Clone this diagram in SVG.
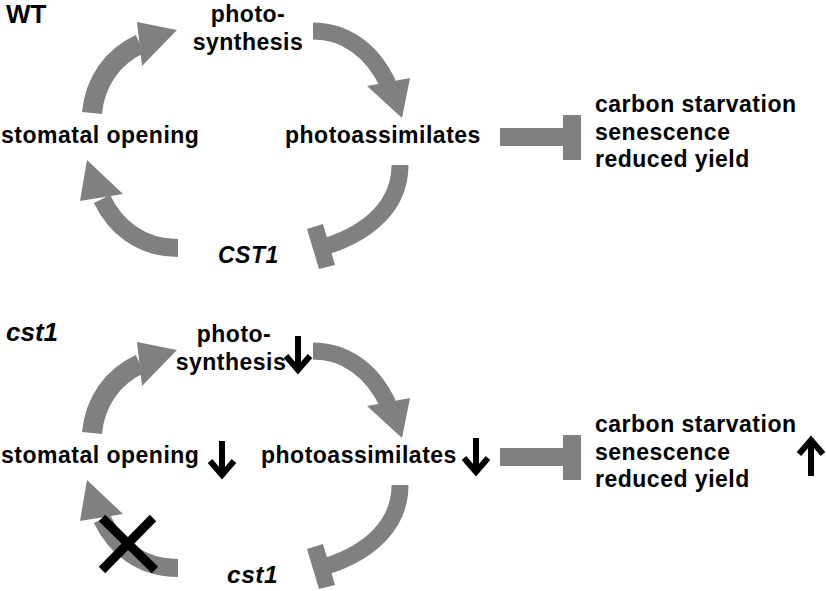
<svg xmlns="http://www.w3.org/2000/svg" xmlns:xlink="http://www.w3.org/1999/xlink" width="826" height="591" viewBox="0 0 826 591">
<defs>
<style>
.t{font-family:"Liberation Sans",Arial,sans-serif;font-weight:bold;font-size:23px;letter-spacing:0.5px;fill:#000}
.i{font-style:italic}
.ttl{font-size:26px;letter-spacing:0}
.sh{fill:none;stroke:#808080;stroke-linecap:butt}
.hd{fill:#808080}
.bk{fill:none;stroke:#000;stroke-width:6;stroke-linejoin:miter;stroke-miterlimit:10}
</style>
<path id="down" class="bk" d="M0,0 V34 M-12,20 L0,34 L12,20"/>
<path id="up" class="bk" d="M0,0 V-36 M-12,-22 L0,-36 L12,-22"/>
</defs>
<rect width="826" height="591" fill="#fff"/>

<g id="connectors">
  <!-- WT -->
  <path class="sh" stroke-width="20" d="M92,113 C95,82 112,57 140,44"/>
  <polygon class="hd" points="137,22 177,30 142,66"/>
  <path class="sh" stroke-width="17" d="M313,31 C345,31 372,50 388,84"/>
  <polygon class="hd" points="367,86 410,78 402,118"/>
  <path class="sh" stroke-width="17" d="M400,165 C400,205 370,232 327,246"/>
  <polygon class="hd" points="307,229 323,224 335,265 319,269"/>
  <path class="sh" stroke-width="18" d="M178,248 C140,248 115,226 102,199"/>
  <polygon class="hd" points="87,160 123,194 80,201"/>
  <rect class="hd" x="500" y="128" width="64" height="18"/>
  <rect class="hd" x="563" y="115" width="18" height="45"/>
  <!-- cst1 -->
  <g transform="translate(0,320)">
    <path class="sh" stroke-width="20" d="M92,113 C95,82 112,57 140,44"/>
    <polygon class="hd" points="137,22 177,30 142,66"/>
    <path class="sh" stroke-width="17" d="M313,31 C345,31 372,50 388,84"/>
    <polygon class="hd" points="367,86 410,78 402,118"/>
    <path class="sh" stroke-width="17" d="M400,165 C400,205 370,232 327,246"/>
    <polygon class="hd" points="307,229 323,224 335,265 319,269"/>
    <path class="sh" stroke-width="18" d="M178,248 C140,248 115,226 102,199"/>
    <polygon class="hd" points="87,160 123,194 80,201"/>
    <rect class="hd" x="500" y="128" width="64" height="18"/>
    <rect class="hd" x="563" y="115" width="18" height="45"/>
  </g>
  <g id="block-x" stroke="#000" stroke-width="9">
    <line x1="102" y1="518" x2="155" y2="570"/>
    <line x1="153" y1="518" x2="102" y2="570"/>
  </g>
</g>

<g id="label-wt"><text class="t ttl" x="6" y="23">WT</text></g>
<g id="node-photosynthesis-wt"><text class="t" x="248" y="22" text-anchor="middle">photo-</text><text class="t" x="248" y="50" text-anchor="middle">synthesis</text></g>
<g id="node-stomatal-wt"><text class="t" x="1" y="143">stomatal opening</text></g>
<g id="node-photoassimilates-wt"><text class="t" x="285" y="143">photoassimilates</text></g>
<g id="node-cst1-wt"><text class="t i" x="218" y="263">CST1</text></g>
<g id="node-outcomes-wt"><text class="t" x="595" y="112">carbon starvation</text><text class="t" x="595" y="139.5">senescence</text><text class="t" x="595" y="167">reduced yield</text></g>

<g id="label-cst1"><text class="t i ttl" x="6" y="341">cst1</text></g>
<g id="node-photosynthesis-cst1"><text class="t" x="234" y="342" text-anchor="middle">photo-</text><text class="t" x="231" y="370" text-anchor="middle">synthesis</text><use xlink:href="#down" x="298" y="336"/></g>
<g id="node-stomatal-cst1"><text class="t" x="1" y="463">stomatal opening</text><use xlink:href="#down" x="222" y="441"/></g>
<g id="node-photoassimilates-cst1"><text class="t" x="261" y="463">photoassimilates</text><use xlink:href="#down" x="476" y="438"/></g>
<g id="node-cst1-mut"><text class="t i" x="227" y="583" style="font-size:24.5px">cst1</text></g>
<g id="node-outcomes-cst1"><text class="t" x="595" y="432">carbon starvation</text><text class="t" x="595" y="459.5">senescence</text><text class="t" x="595" y="487">reduced yield</text><use xlink:href="#up" x="811" y="476"/></g>
</svg>
